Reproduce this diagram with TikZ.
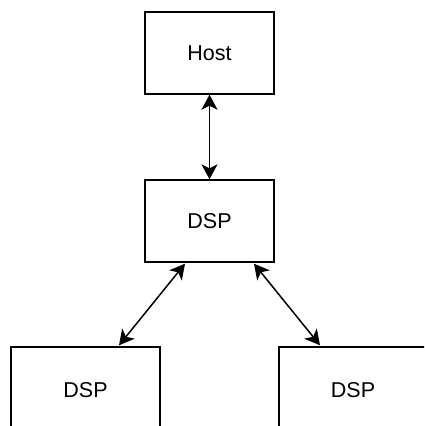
\documentclass[tikz,border=0pt]{standalone}
\usepackage{fontspec}
\setmainfont{Liberation Sans}
\usetikzlibrary{arrows.meta,calc}
\begin{document}
\begin{tikzpicture}[x=1pt,y=-1pt,
  box/.style={draw,line width=1.4pt,rectangle,inner sep=0pt,font=\fontsize{21.5}{25}\selectfont},
  arr/.style={line width=1.5pt,{Stealth[length=15pt,width=16pt,inset=4pt]}-{Stealth[length=15pt,width=16pt,inset=4pt]}}]
\useasboundingbox (0,0) rectangle (424,426);
\clip (0,0) rectangle (424,426);
\node[box,minimum width=129pt,minimum height=82pt] (host) at (209.5,53) {Host};
\node[box,minimum width=129pt,minimum height=82pt] (mid) at (209.5,221) {DSP};
\node[box,minimum width=149pt,minimum height=86pt] (bl) at (85.5,390) {DSP};
\node[box,minimum width=148pt,minimum height=86pt] (br) at (353,390) {DSP};
\draw[arr] (host.south) -- (mid.north);
\draw[arr] ($(mid.south)+(-24.5,1)$) -- ($(bl.north)+(33.5,-1)$);
\draw[arr] ($(mid.south)+(44.5,1)$) -- ($(br.north)+(-33,-1)$);
\end{tikzpicture}
\end{document}
